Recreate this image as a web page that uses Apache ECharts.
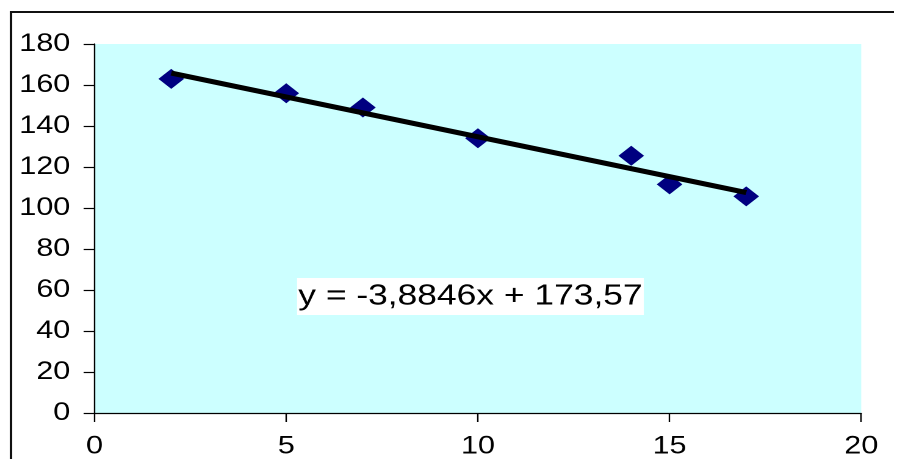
<!DOCTYPE html>
<html>
<head>
<meta charset="utf-8">
<script src="https://cdn.jsdelivr.net/npm/echarts@6/dist/echarts.min.js"></script>
<style>
html,body{margin:0;padding:0;background:#fff;overflow:hidden;}
#wrap{width:897px;height:459px;overflow:hidden;position:relative;}
#chart{width:735px;height:459px;transform:scaleX(1.2204);transform-origin:0 0;}
</style>
</head>
<body>
<div id="wrap"><div id="chart"></div></div>
<script>
// Data
const xValues = [2, 5, 7, 10, 14, 15, 17];
const yValues = [163, 156, 149, 134, 125.5, 111.5, 105.7];
const trendSlope = -3.8846;
const trendIntercept = 173.57;
const trendX = [2, 17];
const equationLabel = 'y = -3,8846x + 173,57';

const points = xValues.map((x, i) => [x, yValues[i]]);
const trendPoints = trendX.map(x => [x, trendSlope * x + trendIntercept]);

const FONT = "'Liberation Sans', Arial, sans-serif";
const chart = echarts.init(document.getElementById('chart'), null, {renderer: 'canvas', devicePixelRatio: 2});
chart.setOption({
  animation: false,
  backgroundColor: '#ffffff',
  grid: {
    left: 77.5, right: 29.3, top: 44, bottom: 45,
    show: true, backgroundColor: '#CCFFFF', borderWidth: 0
  },
  title: {
    text: equationLabel,
    left: 243.4, top: 278,
    backgroundColor: '#ffffff',
    padding: [4, 1, 4, 1],
    textStyle: {fontFamily: FONT, fontSize: 29, fontWeight: 'normal', color: '#000', lineHeight: 29}
  },
  graphic: [
    {type: 'polyline', silent: true, z: 100,
     shape: {points: [[9, 470], [9, 12], [732.5, 12]]},
     style: {stroke: '#111', lineWidth: 2, fill: null}}
  ],
  xAxis: {
    type: 'value', min: 0, max: 20, interval: 5,
    axisLine: {show: true, onZero: false, lineStyle: {color: '#000', width: 1.2}},
    axisTick: {show: true, length: 9, lineStyle: {color: '#000', width: 1.2}},
    axisLabel: {fontFamily: FONT, fontSize: 25, color: '#000', margin: 21},
    splitLine: {show: false}
  },
  yAxis: {
    type: 'value', min: 0, max: 180, interval: 20,
    axisLine: {show: true, onZero: false, lineStyle: {color: '#000', width: 1.2}},
    axisTick: {show: true, length: 9, lineStyle: {color: '#000', width: 1.2}},
    axisLabel: {fontFamily: FONT, fontSize: 25, color: '#000', margin: 20},
    splitLine: {show: false}
  },
  series: [
    {
      type: 'scatter', data: points, symbol: 'diamond', symbolSize: [21, 20],
      itemStyle: {color: '#000080', opacity: 1}, z: 2
    },
    {
      type: 'line', data: trendPoints, showSymbol: false, symbol: 'none',
      lineStyle: {color: '#000', width: 5}, z: 3
    }
  ]
});
</script>
</body>
</html>
